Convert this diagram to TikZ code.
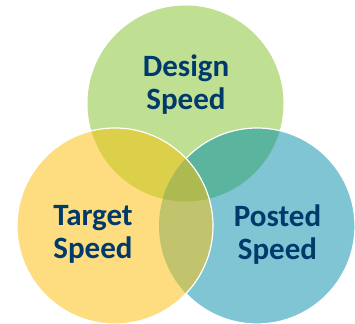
\documentclass[tikz,border=0pt]{standalone}
\usepackage{fontspec}
\setmainfont{Carlito}
\usepackage{xcolor}
\definecolor{dgreen}{HTML}{BFDF93}
\definecolor{tyellow}{HTML}{FEDD80}
\definecolor{pblue}{HTML}{80C5D4}
\definecolor{gyover}{HTML}{DCCF4A}
\definecolor{gbover}{HTML}{5BB59E}
\definecolor{ybover}{HTML}{C1C46C}
\definecolor{allover}{HTML}{ADBA52}
\definecolor{navy}{HTML}{003A6B}

\begin{document}
\begin{tikzpicture}[x=1pt,y=1pt,
    speed/.style={align=center,text=navy,font=\fontsize{31}{33}\selectfont\bfseries}]
            \useasboundingbox (0,0) rectangle (355,323);
            % circle centres
            \coordinate (design) at (185.5,219.5);
            \coordinate (target) at (115,97);
            \coordinate (posted) at (257,97);

            % Draw base circles
            \fill[dgreen] (design) circle (98);
            \fill[pblue] (posted) circle (98);
            \fill[tyellow] (target) circle (98);

            % Overlaps
            \begin{scope}
                \clip (design) circle (98);
                \fill[gyover] (target) circle (98);
                \fill[gbover] (posted) circle (98);
            \end{scope}
            \begin{scope}
                \clip (target) circle (98);
                \fill[ybover] (posted) circle (98);
                \clip (design) circle (98);
                \fill[allover] (posted) circle (98);
            \end{scope}

            % White rims
            \draw[white,line width=1.2pt] (posted) ++(-136.4:98) arc[start angle=-136.4,end angle=136.4,radius=98];
            \draw[white,line width=1.2pt] (target) circle (98);

            % Labels
            \node[speed] (designlbl) at (186,238.5) {Design\\Speed};
            \node[speed] (targetlbl) at (93,88.5) {Target\\Speed};
            \node[speed] (postedlbl) at (277.5,88.5) {Posted\\Speed};
        \end{tikzpicture}
\end{document}
